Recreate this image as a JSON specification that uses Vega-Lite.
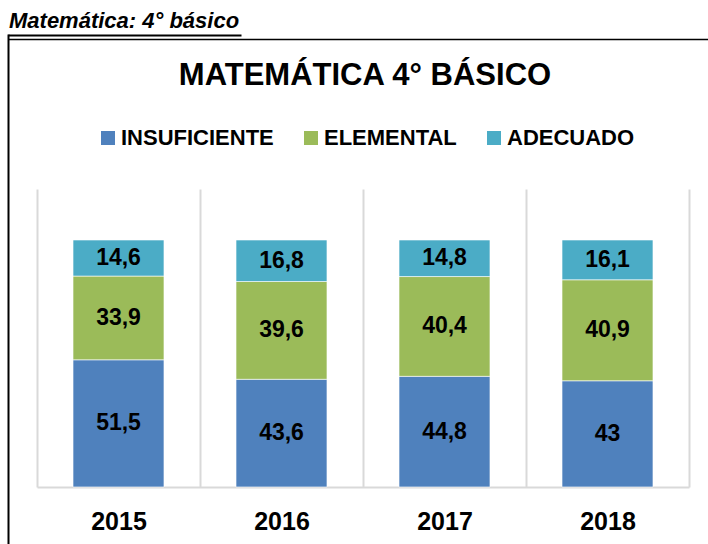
{
  "$schema": "https://vega.github.io/schema/vega-lite/v6.json",
  "background": "white",
  "padding": {"left": 7, "top": 10, "right": 0, "bottom": 0},
  "title": {"text": "Matemática: 4° básico", "anchor": "start", "frame": "bounds", "font": "Liberation Sans", "fontSize": 22, "fontStyle": "italic", "fontWeight": "bold", "color": "black", "offset": 1, "dx": 2},
  "config": {
    "view": {"stroke": null},
    "locale": {"number": {"decimal": ",", "thousands": ".", "grouping": [3], "currency": ["", " €"]}}
  },
  "vconcat": [
    {
      "width": 652,
      "height": 511,
      "title": {"text": "MATEMÁTICA 4° BÁSICO", "anchor": "middle", "frame": "group", "font": "Liberation Sans", "fontSize": 31, "fontWeight": "bold", "color": "black", "offset": -58, "dx": 2},
      "data": {"values": [
        {"year": "2015", "level": "INSUFICIENTE", "value": 51.5},
        {"year": "2015", "level": "ELEMENTAL", "value": 33.9},
        {"year": "2015", "level": "ADECUADO", "value": 14.6},
        {"year": "2016", "level": "INSUFICIENTE", "value": 43.6},
        {"year": "2016", "level": "ELEMENTAL", "value": 39.6},
        {"year": "2016", "level": "ADECUADO", "value": 16.8},
        {"year": "2017", "level": "INSUFICIENTE", "value": 44.8},
        {"year": "2017", "level": "ELEMENTAL", "value": 40.4},
        {"year": "2017", "level": "ADECUADO", "value": 14.8},
        {"year": "2018", "level": "INSUFICIENTE", "value": 43},
        {"year": "2018", "level": "ELEMENTAL", "value": 40.9},
        {"year": "2018", "level": "ADECUADO", "value": 16.1}
      ]},
      "transform": [
        {"calculate": "indexof(['INSUFICIENTE','ELEMENTAL','ADECUADO'], datum.level)", "as": "rank"}
      ],
      "encoding": {
        "x": {
          "field": "year", "type": "nominal",
          "scale": {"paddingInner": 0, "paddingOuter": 0},
          "axis": {
            "orient": "bottom", "offset": -58, "title": null, "grid": false,
            "domainColor": "#d9d9d9", "domainWidth": 2,
            "tickBand": "extent", "tickSize": -298, "tickColor": "#d9d9d9", "tickWidth": 2,
            "labelFont": "Liberation Sans", "labelFontSize": 25, "labelFontWeight": "bold", "labelColor": "black",
            "labelPadding": 320, "labelAngle": 0
          }
        },
        "y": {
          "field": "value", "type": "quantitative", "stack": "zero",
          "scale": {"domain": [-23.5, 183.42], "nice": false, "zero": false},
          "axis": {
            "orient": "left", "offset": 29, "title": null, "labels": false, "grid": false,
            "domainColor": "black", "domainWidth": 2,
            "values": [181.4, 183.2],
            "ticks": true, "tickColor": "black",
            "tickSize": {"condition": {"test": "datum.value > 182", "value": -233}, "value": -700},
            "tickWidth": {"condition": {"test": "datum.value > 182", "value": 2}, "value": 1.5}
          }
        },
        "order": {"field": "rank", "type": "quantitative"}
      },
      "layer": [
        {
          "mark": {"type": "bar", "width": {"band": 0.558}, "stroke": "white", "strokeWidth": 0.6},
          "encoding": {
            "color": {
              "field": "level", "type": "nominal",
              "scale": {"domain": ["INSUFICIENTE", "ELEMENTAL", "ADECUADO"], "range": ["#4F81BD", "#9BBB59", "#4BACC6"]},
              "legend": {
                "orient": "none", "legendX": 60, "legendY": 93, "direction": "horizontal", "title": null,
                "symbolType": "square", "symbolSize": 196, "symbolStrokeWidth": 0,
                "labelFont": "Liberation Sans", "labelFontSize": 22, "labelFontWeight": "bold", "labelColor": "black",
                "labelOffset": 2, "columnPadding": 26, "labelLimit": 400
              }
            }
          }
        },
        {
          "mark": {"type": "text", "font": "Liberation Sans", "fontSize": 23, "fontWeight": "bold", "color": "black", "baseline": "middle"},
          "encoding": {
            "y": {"field": "value", "type": "quantitative", "stack": "zero", "bandPosition": 0.5},
            "text": {"field": "value", "type": "quantitative", "format": ".1~f"}
          }
        }
      ]
    }
  ]
}
